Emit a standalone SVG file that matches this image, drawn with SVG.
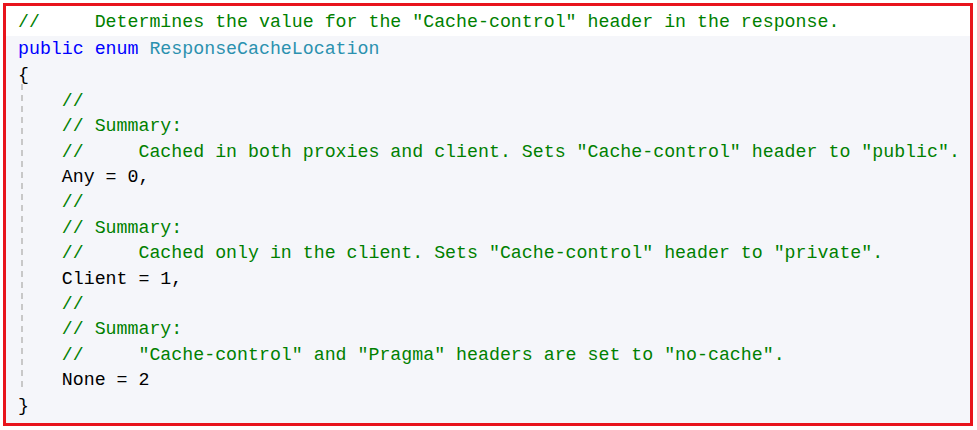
<svg xmlns="http://www.w3.org/2000/svg" width="977" height="430" viewBox="0 0 977 430">
<style>
text{font-family:"Liberation Mono","DejaVu Sans Mono",monospace;font-size:18.25px;white-space:pre}
.c{fill:#008000}.k{fill:#0000ff}.t{fill:#2b91af}.p{fill:#000}
</style>
<rect width="977" height="430" fill="#fff"/>
<rect x="5" y="36" width="966" height="388" fill="#f5f6fa"/>
<line x1="22" y1="84" x2="22" y2="392" stroke="#c8c8c8" stroke-width="2" stroke-dasharray="6,5"/>
<rect x="4.5" y="4.5" width="967" height="420" fill="none" stroke="#e8141c" stroke-width="3"/>
<g id="code">
<text x="18" y="27" class="c">//     Determines the value for the "Cache-control" header in the response.</text>
<text x="18" y="54"><tspan class="k">public enum </tspan><tspan class="t">ResponseCacheLocation</tspan></text>
<text x="18" y="80" class="p">{</text>
<text x="18" y="106" class="c">    //</text>
<text x="18" y="131" class="c">    // Summary:</text>
<text x="18" y="157" class="c">    //     Cached in both proxies and client. Sets "Cache-control" header to "public".</text>
<text x="18" y="182" class="p">    Any = 0,</text>
<text x="18" y="207" class="c">    //</text>
<text x="18" y="233" class="c">    // Summary:</text>
<text x="18" y="258" class="c">    //     Cached only in the client. Sets "Cache-control" header to "private".</text>
<text x="18" y="284" class="p">    Client = 1,</text>
<text x="18" y="309" class="c">    //</text>
<text x="18" y="334" class="c">    // Summary:</text>
<text x="18" y="360" class="c">    //     "Cache-control" and "Pragma" headers are set to "no-cache".</text>
<text x="18" y="385" class="p">    None = 2</text>
<text x="18" y="411" class="p">}</text>
</g>
</svg>
